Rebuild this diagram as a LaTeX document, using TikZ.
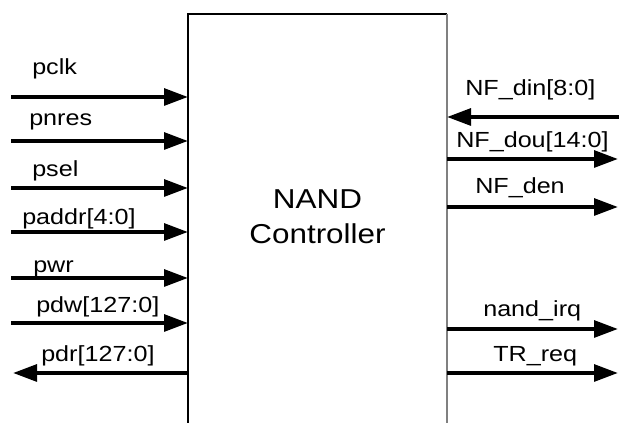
\documentclass[tikz,border=0pt]{standalone}
\usepackage{fontspec}
\setmainfont{Liberation Sans}[FakeStretch=1.15]
\usetikzlibrary{arrows.meta}
\tikzset{
  sig/.style={line width=3pt, -{Triangle[length=18pt,width=12.5pt]}},
  lbl/.style={anchor=base west, inner sep=0pt, font=\fontsize{16.4}{19}\selectfont},
}

\begin{document}
\begin{tikzpicture}[x=0.75pt, y=-0.75pt]
  \useasboundingbox (0,0) rectangle (619,423);
  % block, open at the bottom
  \coordinate (ctrl-nw) at (188,14);
  \coordinate (ctrl-ne) at (447,14);
  \coordinate (ctrl-sw) at (188,423);
  \coordinate (ctrl-se) at (447,423);
  \draw[line width=1.1pt] (ctrl-sw) |- (ctrl-ne);
  \draw[line width=1.1pt, gray] (ctrl-ne) -- (ctrl-se);
  \node[align=center, inner sep=0pt, font=\fontsize{20.5}{26}\selectfont] (title) at (317.5,217) {NAND\\Controller};

  % inputs on the left
  \foreach \n/\y/\lx/\by/\t in {pclk/97/32/75/pclk, pnres/141/29/126/pnres, psel/188/32/177/psel,
      paddr/232/22/225/paddr[4:0], pwr/278/33/273/pwr, pdw/323/36/313/pdw[127:0]}{
    \coordinate (\n-in) at (11,\y);
    \draw[sig] (\n-in) -- (\n-in -| ctrl-nw);
    \node[lbl] (\n-lbl) at (\lx,\by) {\t};
  }
  % output on the left
  \coordinate (pdr-out) at (13,373);
  \draw[sig] (pdr-out -| ctrl-nw) -- (pdr-out);
  \node[lbl] (pdr-lbl) at (41,362) {pdr[127:0]};

  % input on the right
  \coordinate (din-in) at (619,117);
  \draw[sig] (din-in) -- (din-in -| ctrl-ne);
  \node[lbl] (din-lbl) at (465,96) {NF\_din[8:0]};

  % outputs on the right
  \foreach \n/\y/\lx/\by/\t in {dou/159/456/148/NF\_dou[14:0], den/207/475/194/NF\_den,
      irq/329/483/317/nand\_irq, treq/373/493/362/TR\_req}{
    \coordinate (\n-out) at (618,\y);
    \draw[sig] (\n-out -| ctrl-ne) -- (\n-out);
    \node[lbl] (\n-lbl) at (\lx,\by) {\t};
  }
\end{tikzpicture}
\end{document}
